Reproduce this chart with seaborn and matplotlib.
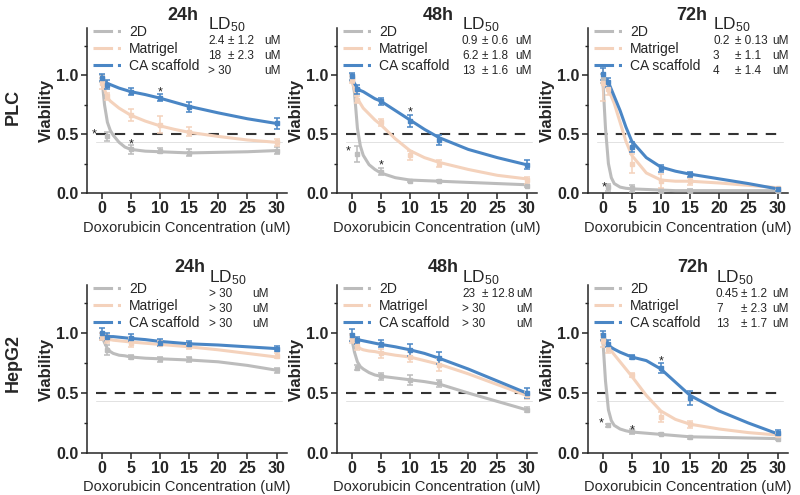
import numpy as np
import pandas as pd
import matplotlib
matplotlib.use("Agg")
import matplotlib.pyplot as plt
from matplotlib.lines import Line2D
import seaborn as sns

sns.set_style("ticks")
plt.rcParams['font.family'] = ['Liberation Sans', 'DejaVu Sans']
plt.rcParams['mathtext.default'] = 'regular'

# measured concentrations (uM) and the concentrations where the fit curve is read
conc = [0, 1, 5, 10, 15, 30]
fit_conc = [0, 0.5, 1, 1.5, 2, 3, 4, 5, 7.5, 10, 12.5, 15, 20, 25, 30]

groups = ["2D", "Matrigel", "CA scaffold"]
palette = {"2D": "#bcbcbc", "Matrigel": "#f4d2bc", "CA scaffold": "#4a86c5"}

# ---- PLC 24h
plc24_2d = [0.97, 0.48, 0.37, 0.36, 0.34, 0.36]
plc24_2d_err = [0.03, 0.04, 0.04, 0.02, 0.03, 0.03]
plc24_mat = [0.93, 0.82, 0.66, 0.58, 0.52, 0.43]
plc24_mat_err = [0.05, 0.03, 0.05, 0.07, 0.04, 0.03]
plc24_ca = [0.98, 0.92, 0.86, 0.81, 0.73, 0.59]
plc24_ca_err = [0.03, 0.04, 0.03, 0.03, 0.04, 0.05]
plc24_2d_fit = [1.0, 0.75, 0.60, 0.53, 0.49, 0.43, 0.39, 0.37, 0.355, 0.35, 0.345, 0.34, 0.345, 0.35, 0.36]
plc24_mat_fit = [0.98, 0.88, 0.81, 0.78, 0.76, 0.72, 0.69, 0.66, 0.61, 0.57, 0.54, 0.515, 0.48, 0.45, 0.43]
plc24_ca_fit = [0.98, 0.95, 0.93, 0.92, 0.91, 0.89, 0.875, 0.86, 0.835, 0.805, 0.77, 0.735, 0.68, 0.63, 0.59]

# ---- PLC 48h
plc48_2d = [0.98, 0.33, 0.18, 0.10, 0.10, 0.06]
plc48_2d_err = [0.03, 0.07, 0.03, 0.01, 0.01, 0.01]
plc48_mat = [0.96, 0.79, 0.60, 0.32, 0.25, 0.11]
plc48_mat_err = [0.03, 0.03, 0.03, 0.04, 0.03, 0.03]
plc48_ca = [0.99, 0.88, 0.78, 0.61, 0.45, 0.24]
plc48_ca_err = [0.03, 0.04, 0.03, 0.05, 0.04, 0.04]
plc48_2d_fit = [1.0, 0.85, 0.55, 0.40, 0.32, 0.24, 0.20, 0.17, 0.13, 0.11, 0.105, 0.10, 0.09, 0.08, 0.07]
plc48_mat_fit = [0.97, 0.88, 0.80, 0.76, 0.72, 0.67, 0.62, 0.58, 0.46, 0.36, 0.30, 0.26, 0.20, 0.15, 0.12]
plc48_ca_fit = [0.98, 0.93, 0.89, 0.87, 0.86, 0.83, 0.80, 0.78, 0.70, 0.62, 0.54, 0.47, 0.37, 0.30, 0.24]

# ---- PLC 72h
plc72_2d = [0.97, 0.05, 0.04, 0.02, 0.02, 0.02]
plc72_2d_err = [0.04, 0.03, 0.03, 0.01, 0.01, 0.01]
plc72_mat = [0.93, 0.88, 0.25, 0.10, 0.10, 0.04]
plc72_mat_err = [0.15, 0.05, 0.08, 0.06, 0.03, 0.01]
plc72_ca = [1.01, 0.94, 0.39, 0.21, 0.16, 0.03]
plc72_ca_err = [0.05, 0.04, 0.04, 0.03, 0.02, 0.01]
plc72_2d_fit = [1.0, 0.55, 0.25, 0.13, 0.08, 0.05, 0.04, 0.035, 0.03, 0.025, 0.02, 0.02, 0.02, 0.02, 0.02]
plc72_mat_fit = [0.93, 0.91, 0.87, 0.82, 0.76, 0.60, 0.44, 0.32, 0.17, 0.11, 0.10, 0.10, 0.085, 0.065, 0.045]
plc72_ca_fit = [0.99, 0.97, 0.94, 0.88, 0.82, 0.70, 0.56, 0.44, 0.30, 0.22, 0.185, 0.16, 0.12, 0.08, 0.035]

# ---- HepG2 24h
hep24_2d = [0.97, 0.86, 0.80, 0.78, 0.78, 0.69]
hep24_2d_err = [0.03, 0.04, 0.02, 0.02, 0.02, 0.02]
hep24_mat = [0.97, 0.95, 0.92, 0.91, 0.89, 0.81]
hep24_mat_err = [0.03, 0.03, 0.04, 0.02, 0.02, 0.02]
hep24_ca = [1.00, 0.97, 0.96, 0.92, 0.91, 0.87]
hep24_ca_err = [0.04, 0.03, 0.03, 0.03, 0.02, 0.02]
hep24_2d_fit = [0.98, 0.92, 0.87, 0.845, 0.83, 0.815, 0.81, 0.80, 0.79, 0.785, 0.78, 0.775, 0.76, 0.73, 0.69]
hep24_mat_fit = [0.97, 0.96, 0.95, 0.945, 0.94, 0.935, 0.93, 0.925, 0.915, 0.905, 0.895, 0.885, 0.86, 0.83, 0.80]
hep24_ca_fit = [0.99, 0.98, 0.975, 0.97, 0.97, 0.965, 0.96, 0.955, 0.945, 0.93, 0.92, 0.91, 0.90, 0.885, 0.87]

# ---- HepG2 48h
hep48_2d = [0.96, 0.71, 0.64, 0.61, 0.58, 0.36]
hep48_2d_err = [0.03, 0.02, 0.03, 0.04, 0.03, 0.02]
hep48_mat = [0.95, 0.89, 0.83, 0.80, 0.73, 0.48]
hep48_mat_err = [0.03, 0.03, 0.04, 0.04, 0.05, 0.03]
hep48_ca = [0.98, 0.94, 0.91, 0.86, 0.79, 0.50]
hep48_ca_err = [0.05, 0.03, 0.03, 0.05, 0.05, 0.04]
hep48_2d_fit = [0.96, 0.84, 0.76, 0.72, 0.70, 0.67, 0.65, 0.64, 0.625, 0.61, 0.595, 0.575, 0.50, 0.43, 0.36]
hep48_mat_fit = [0.96, 0.92, 0.89, 0.87, 0.86, 0.85, 0.845, 0.835, 0.815, 0.80, 0.77, 0.74, 0.66, 0.57, 0.48]
hep48_ca_fit = [0.98, 0.96, 0.945, 0.94, 0.935, 0.925, 0.915, 0.905, 0.885, 0.86, 0.83, 0.79, 0.70, 0.60, 0.50]

# ---- HepG2 72h
hep72_2d = [0.96, 0.23, 0.18, 0.16, 0.13, 0.12]
hep72_2d_err = [0.03, 0.01, 0.02, 0.01, 0.01, 0.01]
hep72_mat = [0.93, 0.87, 0.65, 0.30, 0.24, 0.15]
hep72_mat_err = [0.05, 0.04, 0.02, 0.04, 0.03, 0.02]
hep72_ca = [0.98, 0.91, 0.80, 0.71, 0.46, 0.17]
hep72_ca_err = [0.04, 0.03, 0.02, 0.04, 0.06, 0.02]
hep72_2d_fit = [0.98, 0.60, 0.36, 0.27, 0.23, 0.20, 0.185, 0.175, 0.165, 0.155, 0.145, 0.135, 0.13, 0.125, 0.12]
hep72_mat_fit = [0.95, 0.92, 0.88, 0.85, 0.82, 0.76, 0.70, 0.64, 0.48, 0.35, 0.28, 0.24, 0.20, 0.17, 0.15]
hep72_ca_fit = [0.98, 0.94, 0.90, 0.88, 0.865, 0.84, 0.82, 0.80, 0.77, 0.70, 0.59, 0.48, 0.35, 0.25, 0.16]

# LD50 tables: (value, sd)
plc24_ld50 = [("2.4", "± 1.2"), ("18", "± 2.3"), ("> 30", "")]
plc48_ld50 = [("0.9", "± 0.6"), ("6.2", "± 1.8"), ("13", "± 1.6")]
plc72_ld50 = [("0.2", "± 0.13"), ("3", "± 1.1"), ("4", "± 1.4")]
hep24_ld50 = [("> 30", ""), ("> 30", ""), ("> 30", "")]
hep48_ld50 = [("23", "± 12.8"), ("> 30", ""), ("> 30", "")]
hep72_ld50 = [("0.45", "± 1.2"), ("7", "± 2.3"), ("13", "± 1.7")]

# significance stars (x, y)
plc24_stars = [(-1.3, 0.5), (5, 0.41), (10, 0.85)]
plc48_stars = [(-0.6, 0.35), (5, 0.23), (10, 0.68)]
plc72_stars = [(0.2, 0.05)]
hep24_stars = []
hep48_stars = []
hep72_stars = [(-0.3, 0.25), (5, 0.19), (10, 0.76)]

times = ["24h", "48h", "72h"]
rows = ["PLC", "HepG2"]

panels = [
    [(plc24_2d, plc24_mat, plc24_ca), (plc24_2d_err, plc24_mat_err, plc24_ca_err),
     (plc24_2d_fit, plc24_mat_fit, plc24_ca_fit), plc24_ld50, plc24_stars],
    [(plc48_2d, plc48_mat, plc48_ca), (plc48_2d_err, plc48_mat_err, plc48_ca_err),
     (plc48_2d_fit, plc48_mat_fit, plc48_ca_fit), plc48_ld50, plc48_stars],
    [(plc72_2d, plc72_mat, plc72_ca), (plc72_2d_err, plc72_mat_err, plc72_ca_err),
     (plc72_2d_fit, plc72_mat_fit, plc72_ca_fit), plc72_ld50, plc72_stars],
    [(hep24_2d, hep24_mat, hep24_ca), (hep24_2d_err, hep24_mat_err, hep24_ca_err),
     (hep24_2d_fit, hep24_mat_fit, hep24_ca_fit), hep24_ld50, hep24_stars],
    [(hep48_2d, hep48_mat, hep48_ca), (hep48_2d_err, hep48_mat_err, hep48_ca_err),
     (hep48_2d_fit, hep48_mat_fit, hep48_ca_fit), hep48_ld50, hep48_stars],
    [(hep72_2d, hep72_mat, hep72_ca), (hep72_2d_err, hep72_mat_err, hep72_ca_err),
     (hep72_2d_fit, hep72_mat_fit, hep72_ca_fit), hep72_ld50, hep72_stars],
]

W, H = 800, 495
fig = plt.figure(figsize=(8, 4.95), dpi=100)

def fx(px):
    return px / W

def fy(py):
    return 1 - py / H

# axes boxes in pixels
col_left = [87, 337, 588]
row_top = [28, 285]
row_bottom = [193, 453]
ax_w = 200
# LD50 text columns (pixel x of value, sd, unit)
ld_cols = [[(208, 228, 264), (462, 482, 515), (713, 735, 772)],
           [(209, 228, 252), (462, 482, 516), (716, 741, 772)]]
ld_top = [25, 278]
title_x = [[183, 438, 692], [190, 443, 693]]
title_y = [15, 267]

for i, (means, errs, fits, ld50, stars) in enumerate(panels):
    r, c = divmod(i, 3)
    ax = fig.add_axes([fx(col_left[c]), fy(row_bottom[r]), fx(ax_w),
                       (row_bottom[r] - row_top[r]) / H])

    # fitted curves
    fit_df = pd.concat([pd.DataFrame({"conc": fit_conc, "viability": f, "group": g})
                        for g, f in zip(groups, fits)])
    sns.lineplot(data=fit_df, x="conc", y="viability", hue="group", palette=palette,
                 estimator=None, sort=False, linewidth=2.2, legend=False, ax=ax, zorder=3)

    # measured points with error bars
    for g, m, e in zip(groups, means, errs):
        ax.errorbar(conc, m, yerr=e, fmt="s", ms=2.5, color=palette[g], ecolor=palette[g],
                    elinewidth=1.1, capsize=2.2, capthick=1.1, zorder=4)

    for sx, sy in stars:
        ax.text(sx, sy, "*", ha="center", va="center", fontsize=9, color="#222222", zorder=5)

    ax.plot([-1, 31], [0.43, 0.43], color="#e2e2e2", lw=0.7, zorder=1)
    ax.plot([-1, 31], [0.5, 0.5], color="#333333", lw=1.5, ls=(0, (5, 4)), zorder=2)

    ax.set_xlim(-2.5, 31.8)
    ax.set_ylim(0, 1.4)
    ax.set_xticks([0, 5, 10, 15, 20, 25, 30])
    ax.set_yticks([0.0, 0.5, 1.0])
    ax.set_yticks([0.25, 0.75, 1.25], minor=True)
    ax.set_yticklabels(["0.0", "0.5", "1.0"])
    ax.tick_params(axis="both", which="major", direction="out", length=4, width=1.1,
                   labelsize=11.5, pad=2)
    ax.tick_params(axis="y", which="minor", direction="out", length=2.5, width=1.0)
    for lab in ax.get_xticklabels() + ax.get_yticklabels():
        lab.set_fontweight("bold")
    ax.set_xlabel("Doxorubicin Concentration (uM)", fontsize=10.5, labelpad=3)
    ax.set_ylabel("Viability", fontsize=12, fontweight="bold", labelpad=2)
    sns.despine(ax=ax)
    for s in ["left", "bottom"]:
        ax.spines[s].set_linewidth(1.1)

    handles = [Line2D([0], [0], color=palette[g], lw=2.2, ls="-.") for g in groups]
    ax.legend(handles, groups, loc="upper left", bbox_to_anchor=(0.03, 1.02),
              frameon=False, fontsize=10, handlelength=2.3, handletextpad=0.3,
              labelspacing=0.22, borderaxespad=0, borderpad=0)

    # LD50 block
    x0, x1, x2 = ld_cols[r][c]
    fig.text(fx(x0), fy(ld_top[r]), "LD$_{50}$", fontsize=12.5, va="center", ha="left")
    for k, (val, sd) in enumerate(ld50):
        yy = fy(ld_top[r] + 16 + 15 * k)
        fig.text(fx(x0), yy, val, fontsize=8.5, va="center", ha="left")
        if sd:
            fig.text(fx(x1), yy, sd, fontsize=8.5, va="center", ha="left")
        fig.text(fx(x2), yy, "uM", fontsize=8.5, va="center", ha="left")

    fig.text(fx(title_x[r][c]), fy(title_y[r]), times[c], fontsize=13,
             fontweight="bold", ha="center", va="center")

fig.text(fx(13), fy(107), rows[0], fontsize=13, fontweight="bold", rotation=90,
         ha="center", va="center")
fig.text(fx(13), fy(363), rows[1], fontsize=13, fontweight="bold", rotation=90,
         ha="center", va="center")

fig.savefig("out.png", dpi=100)
